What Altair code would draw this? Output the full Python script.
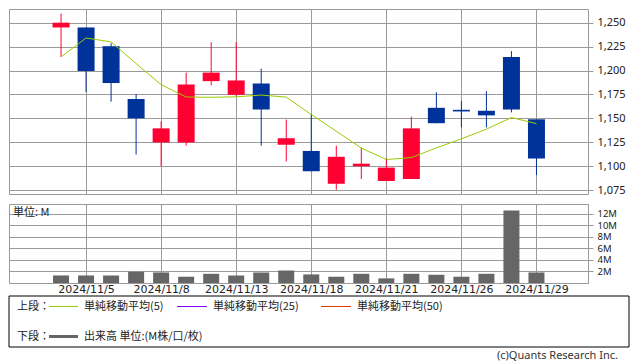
import altair as alt
import pandas as pd

# ---------------- data ----------------
dates = ["2024/11/1", "2024/11/5", "2024/11/6", "2024/11/7", "2024/11/8",
         "2024/11/11", "2024/11/12", "2024/11/13", "2024/11/14", "2024/11/15",
         "2024/11/18", "2024/11/19", "2024/11/20", "2024/11/21", "2024/11/22",
         "2024/11/25", "2024/11/26", "2024/11/27", "2024/11/28", "2024/11/29"]
opens = [1245, 1245, 1225.4, 1170.2, 1124.8, 1124.8, 1188.9, 1174.6, 1186.5, 1122.4,
         1115.9, 1081.6, 1099.9, 1084.5, 1086.6, 1161.0, 1158.9, 1157.9, 1214.2, 1149.0]
highs = [1259.5, 1245, 1228.5, 1175.3, 1146.9, 1197.8, 1229.5, 1229.5, 1201.9, 1148.7,
         1154.5, 1121.4, 1119.3, 1108.4, 1151.7, 1177.3, 1168.1, 1178.4, 1220.3, 1149.0]
lows = [1214.2, 1177.3, 1167.4, 1112.2, 1099.9, 1121.4, 1184.5, 1173.2, 1121.4, 1105.0,
        1094.7, 1075.3, 1086.6, 1084.5, 1086.6, 1144.9, 1140.5, 1140.5, 1156.2, 1090.7]
closes = [1250, 1199.5, 1186.9, 1150.0, 1139.5, 1185.5, 1197.8, 1189.6, 1159.2, 1129.2,
          1094.7, 1109.8, 1102.6, 1098.5, 1139.5, 1144.9, 1157.2, 1153.1, 1159.2, 1108.0]
ma5 = [1214.2, 1234.0, 1229.9, 1207.2, 1185.2, 1172.3, 1172.0, 1172.5, 1174.3, 1172.2,
       1154.0, 1136.5, 1119.0, 1106.9, 1109.0, 1119.1, 1128.6, 1138.7, 1150.8, 1144.5]
volume_m = [1.31, 1.31, 1.30, 1.95, 1.83, 1.09, 1.60, 1.30, 1.83, 2.17,
            1.49, 1.09, 1.60, 0.80, 1.60, 1.43, 1.09, 1.60, 12.6, 1.83]

price_ticks = [1075, 1100, 1125, 1150, 1175, 1200, 1225, 1250]
volume_ticks = [2, 4, 6, 8, 10, 12]
date_tick_labels = ["2024/11/5", "2024/11/8", "2024/11/13", "2024/11/18",
                    "2024/11/21", "2024/11/26", "2024/11/29"]

legend_upper_labels = ["単純移動平均(5)", "単純移動平均(25)", "単純移動平均(50)"]
legend_upper_colors = ["#99CC00", "#7F00FF", "#E03C00"]
legend_lower_label = "出来高 単位:(M株/口/枚)"
copyright_text = "(c)Quants Research Inc."

# ---------------- styling ----------------
RED = "#FF0033"
BLUE = "#003399"
GRID = "#9a9a9a"
TXT = "#222222"
FONT = "Noto Sans"
CJK = "Noto Sans CJK JP"

idx = list(range(len(dates)))
df = pd.DataFrame({
    "i": idx, "date": dates, "open": opens, "high": highs, "low": lows,
    "close": closes, "ma5": ma5, "vol": [v * 1e6 for v in volume_m],
})
df["dir"] = ["up" if c >= o else "down" for o, c in zip(opens, closes)]

tick_idx = [dates.index(d) for d in date_tick_labels]
label_expr = "[" + ",".join("'%s'" % d for d in dates) + "][datum.value]"
x_dom = [-1.88, 20.86]

W = 579
H_TOP = 185
H_VOL = 79

color_enc = alt.Color("dir:N", scale=alt.Scale(domain=["up", "down"], range=[RED, BLUE]),
                      legend=None)

x_scale = alt.Scale(domain=x_dom, nice=False, zero=False)
x_top_axis = alt.Axis(values=tick_idx, grid=True, gridColor=GRID, gridOpacity=1,
                      labels=False, ticks=False, domain=False, title=None)

price_scale = alt.Scale(domain=[1070.9, 1264.3], nice=False, zero=False)
price_axis = alt.Axis(orient="right", values=price_ticks,
                      labelExpr="format(datum.value, ',')", grid=True,
                      gridColor=GRID, gridOpacity=1, tickColor=GRID, tickSize=5,
                      labelPadding=4, domain=False, title=None, labelFont=FONT,
                      labelFontSize=11, labelColor=TXT, labelOverlap=False,
                      labelFlush=False)

base = alt.Chart(df)
wick = base.mark_rule(strokeWidth=1).encode(
    x=alt.X("i:Q", scale=x_scale, axis=x_top_axis),
    y=alt.Y("low:Q", scale=price_scale, axis=price_axis), y2="high:Q",
    color=color_enc)
body = base.mark_bar(size=17).encode(
    x=alt.X("i:Q", scale=x_scale, axis=x_top_axis),
    y=alt.Y("open:Q", scale=price_scale, axis=price_axis), y2="close:Q",
    color=color_enc)
ma_line = base.mark_line(color="#99CC00", strokeWidth=1).encode(
    x=alt.X("i:Q", scale=x_scale, axis=x_top_axis),
    y=alt.Y("ma5:Q", scale=price_scale, axis=price_axis))
top = alt.layer(wick, body, ma_line).properties(
    width=W, height=H_TOP, view=alt.ViewBackground(stroke=GRID))

# ---------------- volume ----------------
x_vol = alt.X("i:Q", scale=x_scale,
              axis=alt.Axis(values=tick_idx, labelExpr=label_expr, grid=True,
                            gridColor=GRID, gridOpacity=1, ticks=False, domain=False,
                            title=None, labelFont="DejaVu Sans", labelFontSize=11,
                            labelColor=TXT, labelPadding=0, labelFlush=False,
                            labelOverlap=False))
vol_axis = alt.Axis(orient="right", values=[v * 1e6 for v in volume_ticks],
                    labelExpr="(datum.value / 1000000) + 'M'", grid=True,
                    gridColor=GRID, gridOpacity=1, tickColor=GRID, tickSize=5,
                    labelPadding=4, domain=False, title=None, labelFont=FONT,
                    labelFontSize=9.5, labelColor=TXT, labelOverlap=False,
                    labelFlush=False)
vol_bars = base.mark_bar(size=16, color="#666666").encode(
    x=x_vol, y=alt.Y("vol:Q", scale=alt.Scale(domain=[0, 13.72e6], nice=False),
                     axis=vol_axis))
unit_text = alt.Chart(pd.DataFrame({"t": ["単位: M"]})).mark_text(
    align="left", baseline="middle", font=CJK, fontSize=11, color=TXT).encode(
    x=alt.value(4), y=alt.value(9), text="t:N")
vol = alt.layer(vol_bars, unit_text).properties(
    width=W, height=H_VOL, view=alt.ViewBackground(stroke=GRID))

# ---------------- legend box ----------------
one = pd.DataFrame({"k": [0]})
LW = 620
ROW1, ROW2 = 13.5, 43.5
item_x = [(40, 69, 75), (168, 198, 204), (312, 342, 348)]

leg_layers = [
    alt.Chart(one).mark_rect(fill=None, stroke="black", strokeWidth=1).encode(
        x=alt.value(0), x2=alt.value(LW), y=alt.value(3), y2=alt.value(54)),
]
for (x1, x2, tx), lab, col in zip(item_x, legend_upper_labels, legend_upper_colors):
    leg_layers.append(alt.Chart(one).mark_rule(color=col, strokeWidth=1).encode(
        x=alt.value(x1), x2=alt.value(x2), y=alt.value(ROW1)))
    leg_layers.append(alt.Chart(pd.DataFrame({"t": [lab]})).mark_text(
        align="left", baseline="middle", font=CJK, fontSize=11, color=TXT).encode(
        x=alt.value(tx), y=alt.value(ROW1), text="t:N"))
leg_layers.append(alt.Chart(pd.DataFrame({"t": ["上段："]})).mark_text(
    align="left", baseline="middle", font=CJK, fontSize=11, color=TXT).encode(
    x=alt.value(8), y=alt.value(ROW1), text="t:N"))
leg_layers.append(alt.Chart(pd.DataFrame({"t": ["下段："]})).mark_text(
    align="left", baseline="middle", font=CJK, fontSize=11, color=TXT).encode(
    x=alt.value(8), y=alt.value(ROW2), text="t:N"))
leg_layers.append(alt.Chart(one).mark_rule(color="#666666", strokeWidth=3).encode(
    x=alt.value(40), x2=alt.value(69), y=alt.value(ROW2)))
leg_layers.append(alt.Chart(pd.DataFrame({"t": [legend_lower_label]})).mark_text(
    align="left", baseline="middle", font=CJK, fontSize=11, color=TXT).encode(
    x=alt.value(75), y=alt.value(ROW2), text="t:N"))
leg_layers.append(alt.Chart(pd.DataFrame({"t": [copyright_text]})).mark_text(
    align="right", baseline="middle", font=FONT, fontSize=11, color="#333333").encode(
    x=alt.value(609), y=alt.value(63), text="t:N"))

legend = alt.layer(*leg_layers).properties(
    width=LW, height=57, view=alt.ViewBackground(stroke=None))

chart = alt.vconcat(top, vol, legend, spacing=10, bounds="flush", padding=0).configure(
    background="white")

chart.save("out.html", embed_options={"renderer": "svg", "actions": False})
